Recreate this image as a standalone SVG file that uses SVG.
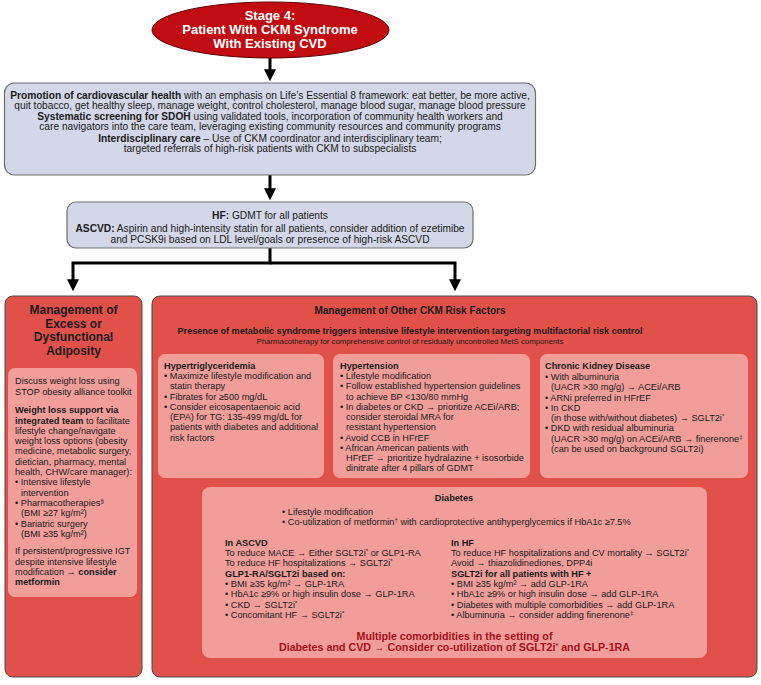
<svg xmlns="http://www.w3.org/2000/svg" width="761" height="685" viewBox="0 0 761 685">
<defs>
<marker id="ah" viewBox="0 0 10 10" refX="2" refY="5" markerWidth="13" markerHeight="12" markerUnits="userSpaceOnUse" orient="auto">
<path d="M0,0 L10,5 L0,10 z" fill="#000"/>
</marker>
<style>
text{font-family:"Liberation Sans",Arial,sans-serif;fill:#1a1a1a}
.s10{font-size:10.2px}
.s9{font-size:9.2px}
.s8{font-size:7.8px}
.b{font-weight:bold}
.c{text-anchor:middle}
.blue{fill:#D3D7E7;stroke:#6e6e6e;stroke-width:1.2}
.panel{fill:#E2504A;stroke:#4a4a4a;stroke-width:1}
.inner{fill:#F19E9A}
.dr{fill:#A50F18}
.wt{fill:#fff}
.conn{fill:none;stroke:#000;stroke-width:3;marker-end:url(#ah)}
</style>
</defs>
<rect width="761" height="685" fill="#fff"/>

<g id="connectors">
<path class="conn" d="M270,58 V71.6"/>
<path class="conn" d="M270,175 V190.6"/>
<path class="conn" d="M270,248 V263 H73 V281.6"/>
<path class="conn" d="M270,263 H455 V281.6"/>
</g>

<g id="stage4">
<ellipse cx="270.5" cy="30" rx="118.5" ry="28" fill="#C10C12" stroke="#5a0000" stroke-width="1"/>
<text class="b c wt" x="270" y="19.7" font-size="13">Stage 4:</text>
<text class="b c wt" x="270" y="33.8" font-size="13">Patient With CKM Syndrome</text>
<text class="b c wt" x="270" y="47.9" font-size="13">With Existing CVD</text>
</g>

<g id="foundation">
<rect class="blue" x="4.5" y="83" width="531" height="92" rx="10"/>
<text class="s10 c" x="270" y="98.7"><tspan class="b">Promotion of cardiovascular health</tspan> with an emphasis on Life’s Essential 8 framework: eat better, be more active,</text>
<text class="s10 c" x="270" y="108.8">quit tobacco, get healthy sleep, manage weight, control cholesterol, manage blood sugar, manage blood pressure</text>
<text class="s10 c" x="270" y="120">  <tspan class="b">Systematic screening for SDOH</tspan> using validated tools, incorporation of community health workers and</text>
<text class="s10 c" x="270" y="130.4">care navigators into the care team, leveraging existing community resources and community programs</text>
<text class="s10 c" x="270" y="142"><tspan class="b">Interdisciplinary care</tspan> – Use of CKM coordinator and interdisciplinary team;</text>
<text class="s10 c" x="270" y="152.2">targeted referrals of high-risk patients with CKM to subspecialists</text>
</g>

<g id="hf-ascvd">
<rect class="blue" x="67" y="202" width="406" height="46" rx="9"/>
<text class="s10 c" x="270" y="219.4"><tspan class="b">HF:</tspan> GDMT for all patients</text>
<text class="s10 c" x="270" y="231.6"><tspan class="b">ASCVD:</tspan> Aspirin and high-intensity statin for all patients, consider addition of ezetimibe</text>
<text class="s10 c" x="270" y="242.6">and PCSK9i based on LDL level/goals or presence of high-risk ASCVD</text>
</g>

<g id="adiposity">
<rect class="panel" x="5" y="296" width="137" height="381" rx="8"/>
<text class="b c" x="73.5" y="314.3" font-size="12">Management of</text>
<text class="b c" x="73.5" y="327.7" font-size="12">Excess or</text>
<text class="b c" x="73.5" y="341.1" font-size="12">Dysfunctional</text>
<text class="b c" x="73.5" y="354.5" font-size="12">Adiposity</text>
<rect class="inner" x="8" y="368" width="129" height="229" rx="7"/>
<g class="s9">
<text x="15" y="384.3">Discuss weight loss using</text>
<text x="15" y="394.6">STOP obesity alliance toolkit</text>
<text x="15" y="413.2" class="b">Weight loss support via</text>
<text x="15" y="423.5"><tspan class="b">integrated team</tspan> to facilitate</text>
<text x="15" y="433.8">lifestyle change/navigate</text>
<text x="15" y="444.1">weight loss options (obesity</text>
<text x="15" y="454.4">medicine, metabolic surgery,</text>
<text x="15" y="464.7">dietician, pharmacy, mental</text>
<text x="15" y="475">health, CHW/care manager):</text>
<text x="15" y="485.3">• Intensive lifestyle</text>
<text x="21" y="495.6">intervention</text>
<text x="15" y="505.9">• Pharmacotherapies<tspan font-size="6" baseline-shift="super">§</tspan></text>
<text x="21" y="516.2">(BMI ≥27 kg/m²)</text>
<text x="15" y="526.5">• Bariatric surgery</text>
<text x="21" y="536.8">(BMI ≥35 kg/m²)</text>
<text x="15" y="554.3">If persistent/progressive IGT</text>
<text x="15" y="564.6">despite intensive lifestyle</text>
<text x="15" y="574.9">modification → <tspan class="b">consider</tspan></text>
<text x="15" y="585.2" class="b">metformin</text>
</g>
</g>

<g id="other-ckm">
<rect class="panel" x="152" y="296" width="605" height="381" rx="8"/>
<text class="b c" x="410" y="313.6" font-size="10">Management of Other CKM Risk Factors</text>
<text class="b c" x="410" y="334.2" font-size="9.1">Presence of metabolic syndrome triggers intensive lifestyle intervention targeting multifactorial risk control</text>
<text class="s8 c" x="410" y="344.3">Pharmacotherapy for comprehensive control of residually uncontrolled MetS components</text>
</g>

<g id="hypertriglyceridemia" class="s9">
<rect class="inner" x="158" y="354" width="166" height="124" rx="7"/>
<text x="164" y="368.5" class="b">Hypertriglyceridemia</text>
<text x="164" y="379">• Maximize lifestyle modification and</text>
<text x="170" y="389.2">statin therapy</text>
<text x="164" y="399.5">• Fibrates for ≥500 mg/dL</text>
<text x="164" y="409.8">• Consider eicosapentaenoic acid</text>
<text x="170" y="420">(EPA) for TG: 135-499 mg/dL for</text>
<text x="170" y="430.3">patients with diabetes and additional</text>
<text x="170" y="440.5">risk factors</text>
</g>

<g id="hypertension" class="s9">
<rect class="inner" x="333" y="354" width="197" height="124" rx="7"/>
<text x="340" y="368.5" class="b">Hypertension</text>
<text x="340" y="379">• Lifestyle modification</text>
<text x="340" y="389.2">• Follow established hypertension guidelines</text>
<text x="346" y="399.5">to achieve BP &lt;130/80 mmHg</text>
<text x="340" y="409.8">• In diabetes or CKD → prioritize ACEi/ARB;</text>
<text x="346" y="420">consider steroidal MRA for</text>
<text x="346" y="430.3">resistant hypertension</text>
<text x="340" y="440.5">• Avoid CCB in HFrEF</text>
<text x="340" y="450.8">• African American patients with</text>
<text x="346" y="461">HFrEF → prioritize hydralazine + isosorbide</text>
<text x="346" y="471.3">dinitrate after 4 pillars of GDMT</text>
</g>

<g id="ckd" class="s9">
<rect class="inner" x="540" y="354" width="208" height="124" rx="7"/>
<text x="545" y="369" class="b">Chronic Kidney Disease</text>
<text x="545" y="380">• With albuminuria</text>
<text x="551" y="390.2">(UACR &gt;30 mg/g) → ACEi/ARB</text>
<text x="545" y="400.5">• ARNi preferred in HFrEF</text>
<text x="545" y="410.8">• In CKD</text>
<text x="551" y="421">(in those with/without diabetes) → SGLT2i<tspan font-size="6" baseline-shift="super">*</tspan></text>
<text x="545" y="431.3">• DKD with residual albuminuria</text>
<text x="551" y="441.5">(UACR &gt;30 mg/g) on ACEi/ARB → finerenone<tspan font-size="6" baseline-shift="super">‡</tspan></text>
<text x="551" y="451.8">(can be used on background SGLT2i)</text>
</g>

<g id="diabetes" class="s9">
<rect class="inner" x="202" y="487" width="505" height="171" rx="8"/>
<text x="454" y="501.3" class="b c">Diabetes</text>
<text x="282" y="515">• Lifestyle modification</text>
<text x="282" y="525.2">• Co-utilization of metformin<tspan font-size="6" baseline-shift="super">†</tspan> with cardioprotective antihyperglycemics if HbA1c ≥7.5%</text>
<text x="225" y="545.6" class="b">In ASCVD</text>
<text x="225" y="556">To reduce MACE → Either SGLT2i<tspan font-size="6" baseline-shift="super">*</tspan> or GLP1-RA</text>
<text x="225" y="566.2">To reduce HF hospitalizations → SGLT2i<tspan font-size="6" baseline-shift="super">*</tspan></text>
<text x="225" y="576.6" class="b">GLP1-RA/SGLT2i based on:</text>
<text x="225" y="586.8">• BMI ≥35 kg/m² → GLP-1RA</text>
<text x="225" y="597.2">• HbA1c ≥9% or high insulin dose → GLP-1RA</text>
<text x="225" y="607.5">• CKD → SGLT2i<tspan font-size="6" baseline-shift="super">*</tspan></text>
<text x="225" y="617.9">• Concomitant HF → SGLT2i<tspan font-size="6" baseline-shift="super">*</tspan></text>
<text x="451" y="545.6" class="b">In HF</text>
<text x="451" y="556">To reduce HF hospitalizations and CV mortality → SGLT2i<tspan font-size="6" baseline-shift="super">*</tspan></text>
<text x="451" y="566.2">Avoid → thiazolidinediones, DPP4i</text>
<text x="451" y="576.6" class="b">SGLT2i for all patients with HF +</text>
<text x="451" y="586.8">• BMI ≥35 kg/m² → add GLP-1RA</text>
<text x="451" y="597.2">• HbA1c ≥9% or high insulin dose → add GLP-1RA</text>
<text x="451" y="607.5">• Diabetes with multiple comorbidities → add GLP-1RA</text>
<text x="451" y="617.9">• Albuminuria → consider adding finerenone<tspan font-size="6" baseline-shift="super">‡</tspan></text>
<text x="454.5" y="640" class="b c dr" font-size="10.7">Multiple comorbidities in the setting of</text>
<text x="454.5" y="651.4" class="b c dr" font-size="10.7">Diabetes and CVD → Consider co-utilization of SGLT2i<tspan font-size="7" baseline-shift="super">*</tspan> and GLP-1RA</text>
</g>
</svg>
